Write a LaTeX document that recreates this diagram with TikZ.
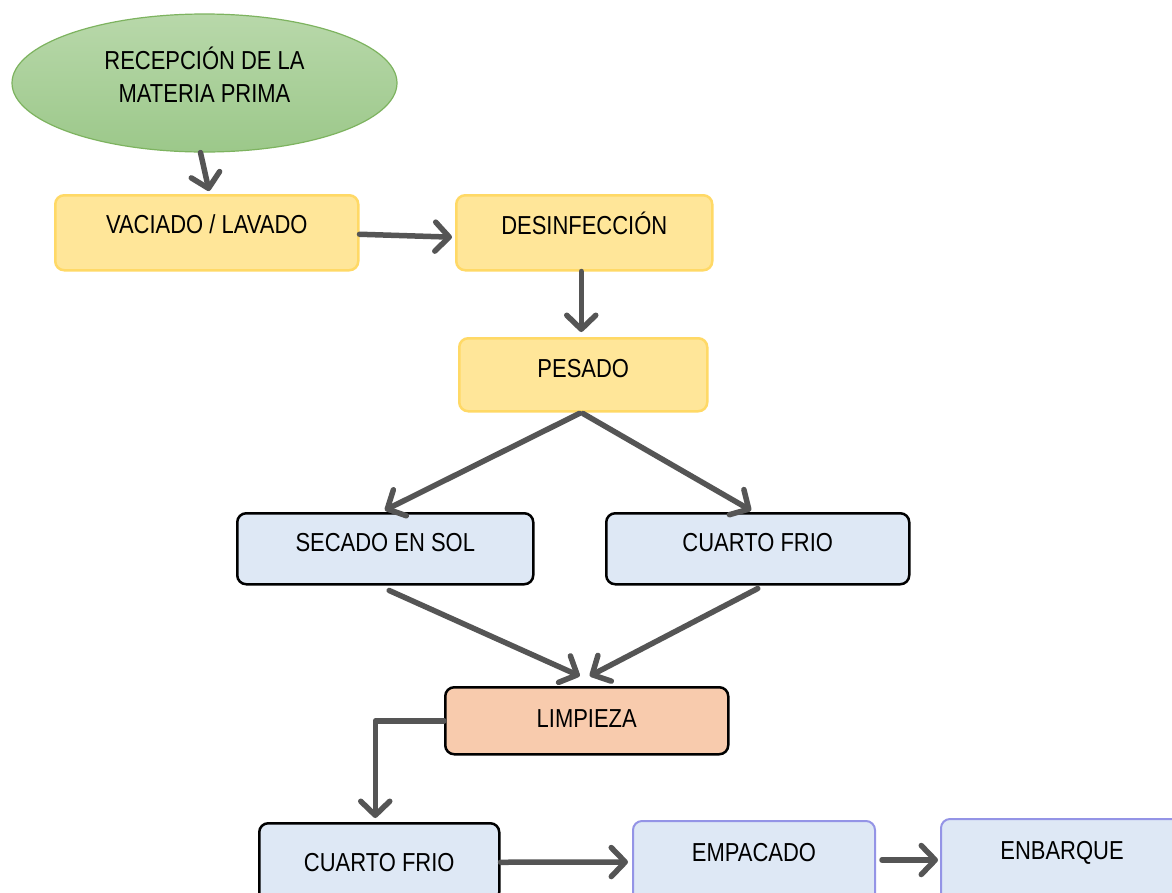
\documentclass[tikz,border=0pt]{standalone}
\usepackage{fontspec}
\setmainfont{Liberation Sans}[FakeStretch=0.845]
\usetikzlibrary{arrows.meta,shapes.geometric,calc}
\definecolor{yfill}{HTML}{FFE699}
\definecolor{ydraw}{HTML}{FFD966}
\definecolor{bfill}{HTML}{DEE8F5}
\definecolor{pdraw}{HTML}{9494E6}
\definecolor{ofill}{HTML}{F8CBAD}
\definecolor{gtop}{HTML}{B8D8AA}
\definecolor{gbot}{HTML}{9CC88A}
\definecolor{gdraw}{HTML}{7DB35F}
\definecolor{arrowc}{HTML}{555555}
\begin{document}
\begin{tikzpicture}[x=1pt,y=-1pt,
  font=\fontsize{26}{33}\selectfont,
  box/.style={rectangle, rounded corners=9pt, inner xsep=0pt, inner ysep=0pt, anchor=north west, line width=2.5pt},
  ybox/.style={box, fill=yfill, draw=ydraw},
  bbox/.style={box, fill=bfill, draw=black},
  pbox/.style={box, fill=bfill, draw=pdraw, line width=2pt},
  obox/.style={box, fill=ofill, draw=black},
  flow/.style={draw=arrowc, line width=5.5pt, line cap=round, line join=round,
    -{Straight Barb[length=14pt,width=29pt,line cap=round,line join=round]}}]
\clip (0,0) rectangle (1172,892);
\useasboundingbox (0,0) rectangle (1172,892);
\fill[white] (0,0) rectangle (1172,892);

\node[ellipse, draw=gdraw, line width=1.2pt, top color=gtop, bottom color=gbot,
  minimum width=385pt, minimum height=138pt, inner sep=0pt] (rec) at (204.5,83)
  {\raisebox{14pt}[0pt][0pt]{\begin{tabular}[t]{@{}c@{}}RECEPCIÓN DE LA\\MATERIA PRIMA\end{tabular}}};

\node[ybox, minimum width=303pt, text height=38pt, text depth=37pt] (vac) at (54,194) {VACIADO / LAVADO};
\node[ybox, minimum width=256pt, text height=39pt, text depth=36pt] (des) at (455,194) {DESINFECCIÓN};
\node[ybox, minimum width=248pt, text height=39pt, text depth=34pt] (pes) at (458,337) {PESADO};
\node[bbox, minimum width=296pt, text height=38pt, text depth=33pt] (sec) at (236,512) {SECADO EN SOL};
\node[bbox, minimum width=303pt, text height=38pt, text depth=33pt] (cf1) at (605,512) {CUARTO FRIO};
\node[obox, minimum width=283pt, text height=40pt, text depth=27pt] (limp) at (444,686) {LIMPIEZA};
\node[bbox, minimum width=240pt, text height=48pt, text depth=30pt] (cf2) at (258,822) {CUARTO FRIO};
\node[pbox, minimum width=242pt, text height=40pt, text depth=42pt] (emp) at (632,820) {EMPACADO};
\node[pbox, minimum width=242pt, text height=40pt, text depth=42pt] (enb) at (940,818) {ENBARQUE};

\draw[flow, shorten >=3pt] ([xshift=-4pt]rec.south) -- ([xshift=3pt]vac.north);
\draw[flow, shorten >=3pt] ([yshift=-1.5pt]vac.east) -- ([yshift=-4.5pt]des.west);
\draw[flow, shorten >=5pt] ([xshift=-3pt]des.south) -- ([xshift=-2pt]pes.north);
\draw[flow, shorten <=2pt, shorten >=4pt] ([xshift=-2pt]pes.south) -- ([xshift=-4pt]sec.north);
\draw[flow, shorten <=2pt, shorten >=3pt] ([xshift=-2pt]pes.south) -- ([xshift=-4pt]cf1.north);
\draw[flow] ([xshift=4pt,yshift=-5pt]sec.south) -- ([xshift=-7pt,yshift=10pt]limp.north);
\draw[flow] ([yshift=-3pt]cf1.south) -- ([xshift=3pt,yshift=10pt]limp.north);
\draw[flow, shorten >=4pt] (limp.west) -| ([xshift=-4pt]cf2.north);
\draw[flow, shorten >=4pt] (cf2.east) -- (emp.west);
\draw[flow, shorten <=6pt, shorten >=2pt] ([yshift=2pt]emp.east) -- (enb.west);
\end{tikzpicture}
\end{document}
